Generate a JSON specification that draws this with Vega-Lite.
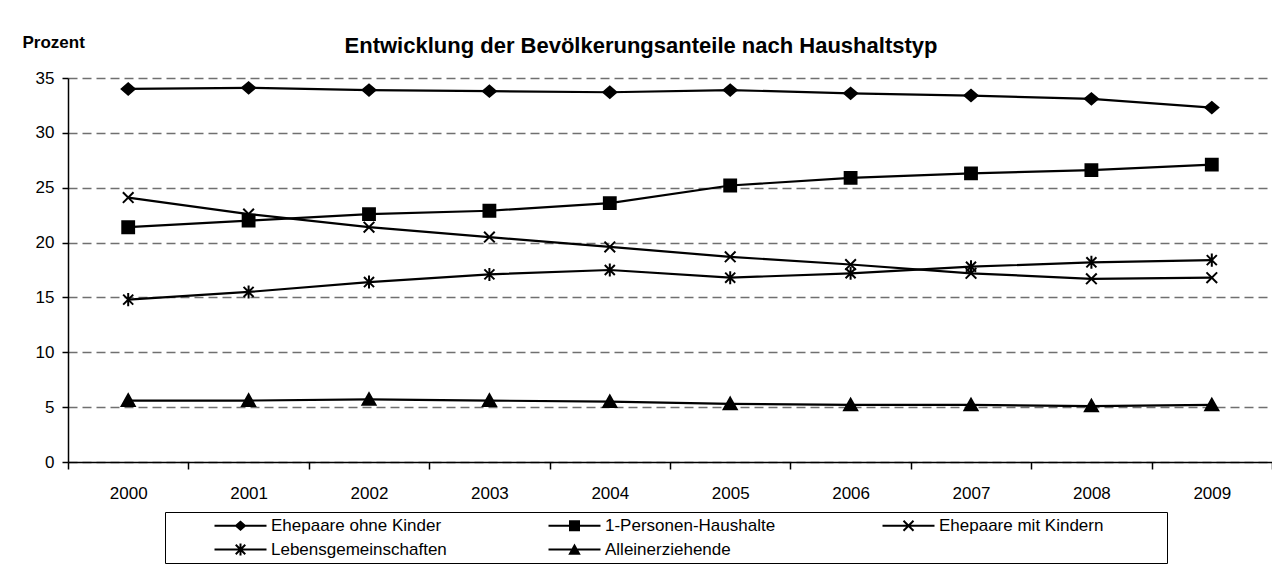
{
  "$schema": "https://vega.github.io/schema/vega-lite/v6.json",
  "width": 1204,
  "height": 384,
  "autosize": {"type": "none"},
  "padding": {"left": 68, "top": 78, "right": 0, "bottom": 108},
  "background": "white",
  "config": {
    "font": "Liberation Sans, Arial, sans-serif",
    "view": {"stroke": null}
  },
  "title": {
    "text": "Entwicklung der Bevölkerungsanteile nach Haushaltstyp",
    "fontSize": 22,
    "fontWeight": "bold",
    "color": "black",
    "anchor": "middle",
    "frame": "group",
    "baseline": "middle",
    "offset": 0,
    "dy": 35,
    "dx": -29
  },
  "data": {
    "values": [
      {"jahr": "2000", "typ": "Ehepaare ohne Kinder", "wert": 34.0},
      {"jahr": "2001", "typ": "Ehepaare ohne Kinder", "wert": 34.1},
      {"jahr": "2002", "typ": "Ehepaare ohne Kinder", "wert": 33.9},
      {"jahr": "2003", "typ": "Ehepaare ohne Kinder", "wert": 33.8},
      {"jahr": "2004", "typ": "Ehepaare ohne Kinder", "wert": 33.7},
      {"jahr": "2005", "typ": "Ehepaare ohne Kinder", "wert": 33.9},
      {"jahr": "2006", "typ": "Ehepaare ohne Kinder", "wert": 33.6},
      {"jahr": "2007", "typ": "Ehepaare ohne Kinder", "wert": 33.4},
      {"jahr": "2008", "typ": "Ehepaare ohne Kinder", "wert": 33.1},
      {"jahr": "2009", "typ": "Ehepaare ohne Kinder", "wert": 32.3},
      {"jahr": "2000", "typ": "1-Personen-Haushalte", "wert": 21.4},
      {"jahr": "2001", "typ": "1-Personen-Haushalte", "wert": 22.0},
      {"jahr": "2002", "typ": "1-Personen-Haushalte", "wert": 22.6},
      {"jahr": "2003", "typ": "1-Personen-Haushalte", "wert": 22.9},
      {"jahr": "2004", "typ": "1-Personen-Haushalte", "wert": 23.6},
      {"jahr": "2005", "typ": "1-Personen-Haushalte", "wert": 25.2},
      {"jahr": "2006", "typ": "1-Personen-Haushalte", "wert": 25.9},
      {"jahr": "2007", "typ": "1-Personen-Haushalte", "wert": 26.3},
      {"jahr": "2008", "typ": "1-Personen-Haushalte", "wert": 26.6},
      {"jahr": "2009", "typ": "1-Personen-Haushalte", "wert": 27.1},
      {"jahr": "2000", "typ": "Ehepaare mit Kindern", "wert": 24.1},
      {"jahr": "2001", "typ": "Ehepaare mit Kindern", "wert": 22.6},
      {"jahr": "2002", "typ": "Ehepaare mit Kindern", "wert": 21.4},
      {"jahr": "2003", "typ": "Ehepaare mit Kindern", "wert": 20.5},
      {"jahr": "2004", "typ": "Ehepaare mit Kindern", "wert": 19.6},
      {"jahr": "2005", "typ": "Ehepaare mit Kindern", "wert": 18.7},
      {"jahr": "2006", "typ": "Ehepaare mit Kindern", "wert": 18.0},
      {"jahr": "2007", "typ": "Ehepaare mit Kindern", "wert": 17.2},
      {"jahr": "2008", "typ": "Ehepaare mit Kindern", "wert": 16.7},
      {"jahr": "2009", "typ": "Ehepaare mit Kindern", "wert": 16.8},
      {"jahr": "2000", "typ": "Lebensgemeinschaften", "wert": 14.8},
      {"jahr": "2001", "typ": "Lebensgemeinschaften", "wert": 15.5},
      {"jahr": "2002", "typ": "Lebensgemeinschaften", "wert": 16.4},
      {"jahr": "2003", "typ": "Lebensgemeinschaften", "wert": 17.1},
      {"jahr": "2004", "typ": "Lebensgemeinschaften", "wert": 17.5},
      {"jahr": "2005", "typ": "Lebensgemeinschaften", "wert": 16.8},
      {"jahr": "2006", "typ": "Lebensgemeinschaften", "wert": 17.2},
      {"jahr": "2007", "typ": "Lebensgemeinschaften", "wert": 17.8},
      {"jahr": "2008", "typ": "Lebensgemeinschaften", "wert": 18.2},
      {"jahr": "2009", "typ": "Lebensgemeinschaften", "wert": 18.4},
      {"jahr": "2000", "typ": "Alleinerziehende", "wert": 5.6},
      {"jahr": "2001", "typ": "Alleinerziehende", "wert": 5.6},
      {"jahr": "2002", "typ": "Alleinerziehende", "wert": 5.7},
      {"jahr": "2003", "typ": "Alleinerziehende", "wert": 5.6},
      {"jahr": "2004", "typ": "Alleinerziehende", "wert": 5.5},
      {"jahr": "2005", "typ": "Alleinerziehende", "wert": 5.3},
      {"jahr": "2006", "typ": "Alleinerziehende", "wert": 5.2},
      {"jahr": "2007", "typ": "Alleinerziehende", "wert": 5.2},
      {"jahr": "2008", "typ": "Alleinerziehende", "wert": 5.1},
      {"jahr": "2009", "typ": "Alleinerziehende", "wert": 5.2}
    ]
  },
  "encoding": {
    "x": {
      "field": "jahr",
      "type": "ordinal",
      "bandPosition": 0.5,
      "scale": {"type": "band", "paddingInner": 0, "paddingOuter": 0},
      "axis": {
        "title": null,
        "tickBand": "extent",
        "labelAngle": 0,
        "labelFontSize": 17,
        "labelColor": "black",
        "labelPadding": 16,
        "tickSize": 7,
        "tickColor": "black",
        "tickWidth": 1.5,
        "domainColor": "black",
        "domainWidth": 1.5,
        "grid": false
      }
    },
    "y": {
      "field": "wert",
      "type": "quantitative",
      "scale": {"domain": [0, 35], "nice": false},
      "axis": {
        "values": [0, 5, 10, 15, 20, 25, 30, 35],
        "title": "Prozent",
        "titleAngle": 0,
        "titleX": -46,
        "titleY": -36,
        "titleAlign": "left",
        "titleBaseline": "middle",
        "titleFontSize": 17,
        "titleFontWeight": "bold",
        "titleColor": "black",
        "labelFontSize": 17,
        "labelColor": "black",
        "labelPadding": 8,
        "tickSize": 6,
        "tickColor": "black",
        "tickWidth": 1.5,
        "domainColor": "black",
        "domainWidth": 1.5,
        "grid": true,
        "gridColor": "#707070",
        "gridDash": [9, 5],
        "gridWidth": 1.3
      }
    }
  },
  "layer": [
    {
      "mark": {"type": "line", "color": "black", "strokeWidth": 2.2},
      "encoding": {"detail": {"field": "typ"}}
    },
    {
      "mark": {"type": "point", "filled": true, "fill": "black", "stroke": "black", "strokeWidth": 2, "size": 140, "opacity": 1},
      "encoding": {
        "shape": {
          "field": "typ",
          "scale": {
            "domain": ["Ehepaare ohne Kinder", "1-Personen-Haushalte", "Ehepaare mit Kindern", "Lebensgemeinschaften", "Alleinerziehende"],
            "range": [
              "M-1.1,0L0,-0.95L1.1,0L0,0.95Z",
              "M-1,-1H1V1H-1Z",
              "M-0.9,-0.9L0.9,0.9M-0.9,0.9L0.9,-0.9",
              "M-0.85,-0.85L0.85,0.85M-0.85,0.85L0.85,-0.85M0,-1.1V1.1",
              "M0,-1.05L1.1,0.9H-1.1Z"
            ]
          },
          "legend": null
        }
      }
    },
    {
      "transform": [{"filter": "false"}],
      "mark": {"type": "point", "filled": true, "fill": "black", "stroke": "black", "strokeWidth": 0, "size": 100, "opacity": 1},
      "encoding": {
        "shape": {
          "field": "typ",
          "scale": {
            "domain": ["Ehepaare ohne Kinder", "1-Personen-Haushalte", "Ehepaare mit Kindern", "Lebensgemeinschaften", "Alleinerziehende"],
            "range": [
              "M-1.2,0M7.2,-0.2H17.6V0.2H7.2ZM11.2,0L12.4,-1.05L13.6,0L12.4,1.05Z",
              "M-1.2,0M7.2,-0.2H17.6V0.2H7.2ZM11.3,-1.1H13.5V1.1H11.3Z",
              "M-1.2,0M7.2,-0.2H17.6V0.2H7.2ZM11.541,-1.141L13.541,0.859L13.259,1.141L11.259,-0.859ZM11.259,0.859L13.259,-1.141L13.541,-0.859L11.541,1.141ZM63,0",
              "M-1.2,0M7.2,-0.2H17.6V0.2H7.2ZM11.591,-1.091L13.491,0.809L13.209,1.091L11.309,-0.809ZM11.309,0.809L13.209,-1.091L13.491,-0.809L11.591,1.091ZM12.2,-1.2H12.6V1.2H12.2Z",
              "M-1.2,0M7.2,-0.2H17.6V0.2H7.2ZM12.4,-1.2L13.65,1.05H11.15Z"
            ]
          },
          "legend": {
            "title": null,
            "orient": "none",
            "direction": "horizontal",
            "legendX": 97,
            "legendY": 434,
            "columns": 3,
            "gridAlign": "all",
            "columnPadding": 10,
            "rowPadding": 6,
            "padding": 5,
            "strokeColor": "black",
            "labelFontSize": 17,
            "labelColor": "black",
            "labelOffset": 84,
            "labelLimit": 400,
            "symbolSize": 100,
            "symbolStrokeWidth": 0,
            "symbolFillColor": "black",
            "symbolStrokeColor": "black",
            "symbolOpacity": 1
          }
        }
      }
    }
  ],
  "resolve": {"scale": {"shape": "independent"}}
}
